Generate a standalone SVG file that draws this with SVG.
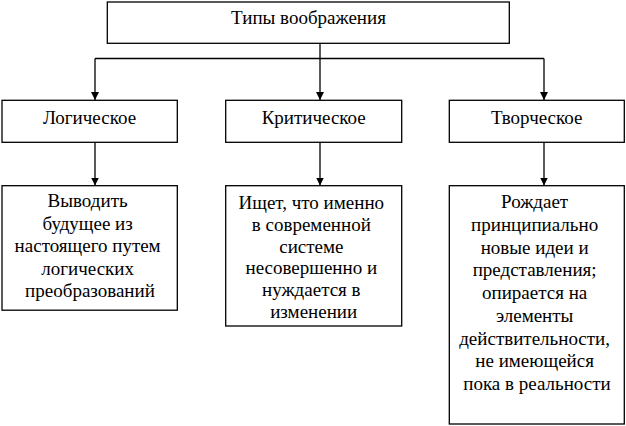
<svg xmlns="http://www.w3.org/2000/svg" width="626" height="426" viewBox="0 0 626 426">
<style>
.box{fill:#fff;stroke:#000;stroke-width:1.3}
.lbl{font-family:"Liberation Serif","Times New Roman",serif;font-size:19px;fill:#000;text-anchor:middle}
.body{font-family:"Liberation Serif","Times New Roman",serif;font-size:19px;fill:#000;text-anchor:middle}
.ln{fill:none;stroke:#000;stroke-width:1.3}
</style>
<defs>
<marker id="ar" viewBox="0 0 10 10" refX="10" refY="5" markerWidth="8" markerHeight="8" markerUnits="userSpaceOnUse" orient="auto">
<path d="M0,0 L10,5 L0,10 Z" fill="#000"/>
</marker>
</defs>
<g id="connectors">
<path class="ln" d="M320,43.3 V100" marker-end="url(#ar)"/>
<path class="ln" d="M95,58.5 H544"/>
<path class="ln" d="M95,58.5 V100" marker-end="url(#ar)"/>
<path class="ln" d="M544,58.5 V100" marker-end="url(#ar)"/>
<path class="ln" d="M95,142.3 V185.5" marker-end="url(#ar)"/>
<path class="ln" d="M320,142.3 V185.5" marker-end="url(#ar)"/>
<path class="ln" d="M544,142.3 V185.5" marker-end="url(#ar)"/>
</g>
<g id="n-root">
<rect class="box" x="107.3" y="2" width="402" height="41.3"/>
<text class="lbl" x="308.5" y="24">Типы воображения</text>
</g>
<g id="n-logical">
<rect class="box" x="2" y="100.3" width="175.3" height="42"/>
<text class="lbl" x="89.5" y="123.5">Логическое</text>
</g>
<g id="n-critical">
<rect class="box" x="225.7" y="100.3" width="176" height="42"/>
<text class="lbl" x="313.7" y="123.5">Критическое</text>
</g>
<g id="n-creative">
<rect class="box" x="449.3" y="100.3" width="175" height="42"/>
<text class="lbl" x="536.8" y="123.5">Творческое</text>
</g>
<g id="n-logical-desc">
<rect class="box" x="2" y="185.7" width="175.3" height="124.5"/>
<text class="body" x="90" y="207">
<tspan x="90" y="207">Выводить</tspan>
<tspan x="90" y="229.5">будущее из</tspan>
<tspan x="90" y="252">настоящего путем</tspan>
<tspan x="90" y="274.5">логических</tspan>
<tspan x="90" y="297">преобразований</tspan>
</text>
</g>
<g id="n-critical-desc">
<rect class="box" x="225.7" y="185.7" width="176" height="140.3"/>
<text class="body" x="313.7" y="209">
<tspan x="313.7" y="209">Ищет, что именно</tspan>
<tspan x="313.7" y="230.8">в современной</tspan>
<tspan x="313.7" y="252.6">системе</tspan>
<tspan x="313.7" y="274.4">несовершенно и</tspan>
<tspan x="313.7" y="296.2">нуждается в</tspan>
<tspan x="313.7" y="318">изменении</tspan>
</text>
</g>
<g id="n-creative-desc">
<rect class="box" x="449.3" y="185.7" width="175" height="238.3"/>
<text class="body" x="537" y="208">
<tspan x="537" y="208">Рождает</tspan>
<tspan x="537" y="230.75">принципиально</tspan>
<tspan x="537" y="253.5">новые идеи и</tspan>
<tspan x="537" y="276.25">представления;</tspan>
<tspan x="537" y="299">опирается на</tspan>
<tspan x="537" y="321.75">элементы</tspan>
<tspan x="537" y="344.5">действительности,</tspan>
<tspan x="537" y="367.25">не имеющейся</tspan>
<tspan x="537" y="390">пока в реальности</tspan>
</text>
</g>
</svg>
